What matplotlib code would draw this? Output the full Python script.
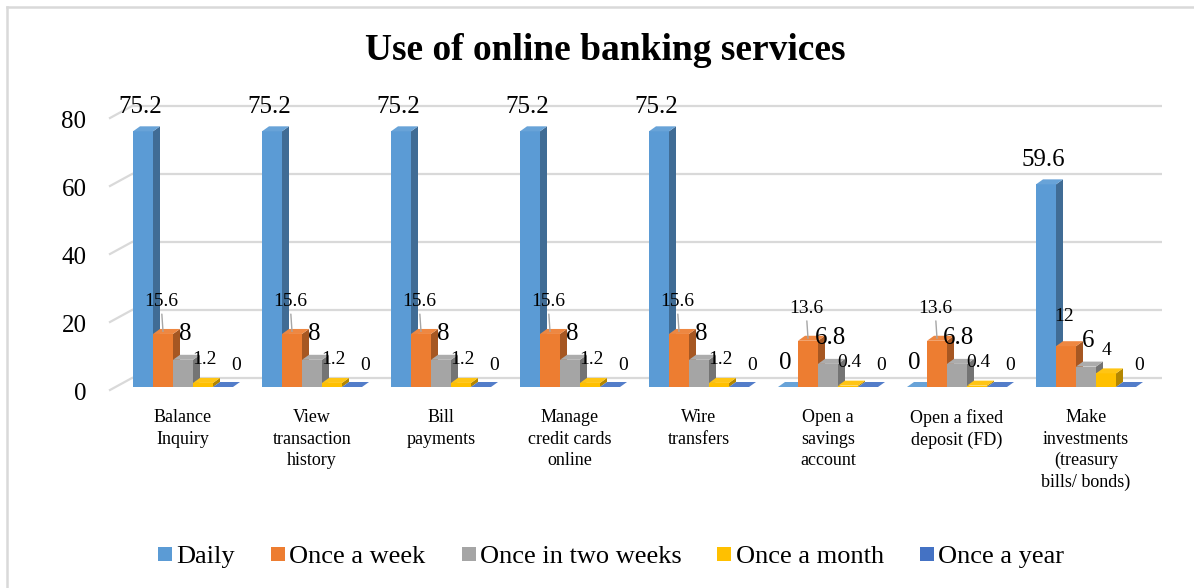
import matplotlib
matplotlib.use("Agg")
import matplotlib.pyplot as plt
import matplotlib.colors as mcolors
from matplotlib.patches import Polygon, Rectangle
from matplotlib.lines import Line2D
from matplotlib.transforms import ScaledTranslation

plt.rcParams['font.family'] = ['Liberation Serif', 'DejaVu Serif']

# ---- data ----
categories = ["Balance\nInquiry", "View\ntransaction\nhistory", "Bill\npayments",
              "Manage\ncredit cards\nonline", "Wire\ntransfers", "Open a\nsavings\naccount",
              "Open a fixed\ndeposit (FD)", "Make\ninvestments\n(treasury\nbills/ bonds)"]
series_names = ["Daily", "Once a week", "Once in two weeks", "Once a month", "Once a year"]
daily = [75.2, 75.2, 75.2, 75.2, 75.2, 0, 0, 59.6]
once_week = [15.6, 15.6, 15.6, 15.6, 15.6, 13.6, 13.6, 12]
two_weeks = [8, 8, 8, 8, 8, 6.8, 6.8, 6]
once_month = [1.2, 1.2, 1.2, 1.2, 1.2, 0.4, 0.4, 4]
once_year = [0, 0, 0, 0, 0, 0, 0, 0]
yticks = [0, 20, 40, 60, 80]

series = [daily, once_week, two_weeks, once_month, once_year]
colors = ['#5B9BD5', '#ED7D31', '#A5A5A5', '#FFC000', '#4472C4']

# ---- layout (pixels) ----
W, H = 1194, 588
DPI = 100
fig = plt.figure(figsize=(W / DPI, H / DPI), dpi=DPI)

ax_left, ax_right, ax_base, ax_top = 110, 1162, 387, 115
ax = fig.add_axes([ax_left / W, (H - ax_base) / H, (ax_right - ax_left) / W, (ax_base - ax_top) / H])
px_x = 129.0                      # pixels per category
px_y = (ax_base - ax_top) / 80.0  # pixels per unit
x0 = -(183 - ax_left) / px_x
ax.set_xlim(x0, x0 + (ax_right - ax_left) / px_x)
ax.set_ylim(0, 80)

bw = 20 / px_x
dx, dy = 7 / px_x, 5 / px_y

# back-wall gridlines with small diagonal at the left side
g_dx, g_up, g_down = 22 / px_x, 9 / px_y, 3 / px_y
for v in yticks:
    ax.plot([x0 + g_dx, ax.get_xlim()[1]], [v + g_up, v + g_up], color='#D9D9D9', lw=1.6,
            zorder=0, clip_on=False, solid_capstyle='butt')
    ax.plot([x0, x0 + g_dx], [v - g_down, v + g_up], color='#D9D9D9', lw=1.6,
            zorder=0, clip_on=False)


def shade(c, f):
    r, g, b = mcolors.to_rgb(c)
    return (r * f, g * f, b * f)


def tint(c, f):
    r, g, b = mcolors.to_rgb(c)
    return (r + (1 - r) * f, g + (1 - g) * f, b + (1 - b) * f)


label_size = [18, 14, 18, 14, 14]
label_off = [(-3, 24), (-2, 30), (2, 26), (1, 23), (13, 22)]  # pixels

for j, vals in enumerate(series):
    z = 3 + j * 3
    for i, h in enumerate(vals):
        xl = i + (j - 2.5) * bw
        xr = xl + bw
        ax.add_patch(Rectangle((xl, 0), bw, h, facecolor=colors[j], lw=0, zorder=z))
        ax.add_patch(Polygon([(xr, 0), (xr + dx, dy), (xr + dx, h + dy), (xr, h)],
                             closed=True, facecolor=shade(colors[j], 0.7), lw=0, zorder=z + 1))
        ax.add_patch(Polygon([(xl, h), (xr, h), (xr + dx, h + dy), (xl + dx, h + dy)],
                             closed=True, facecolor=tint(colors[j], 0.08), lw=0, zorder=z + 2))

        ox, oy = label_off[j]
        txt = f"{h:g}"
        if j == 1 and h > 13:
            ax.annotate(txt, xy=(xl + bw / 2, h + dy / 2), xytext=(ox * 0.72, oy * 0.72),
                        textcoords='offset points', ha='center', va='center',
                        fontsize=label_size[j], zorder=30,
                        arrowprops=dict(arrowstyle='-', color='#A6A6A6', lw=1,
                                        shrinkA=1, shrinkB=0))
        else:
            ax.annotate(txt, xy=(xl + bw / 2, h), xytext=(ox * 0.72, oy * 0.72),
                        textcoords='offset points', ha='center', va='center',
                        fontsize=label_size[j], zorder=30)

# axes decoration
for s in ax.spines.values():
    s.set_visible(False)
ax.set_yticks(yticks)
ax.set_yticklabels([str(v) for v in yticks], fontsize=18)
ax.tick_params(axis='y', length=0, pad=17)
for lab in ax.get_yticklabels():
    lab.set_transform(lab.get_transform() + ScaledTranslation(0, -5 / DPI, fig.dpi_scale_trans))
ax.set_xticks(range(len(categories)))
ax.set_xticklabels(categories, fontsize=13, linespacing=1.33, va='top')
ax.tick_params(axis='x', length=0, pad=16)
ax.patch.set_visible(False)

# title
fig.text(605 / W, 1 - 51 / H, "Use of online banking services", ha='center', va='center',
         fontsize=27, fontweight='bold')

# legend
handles = [Line2D([], [], marker='s', linestyle='none', markersize=9.5, color=c,
                  markeredgewidth=0) for c in colors]
fig.legend(handles, series_names, loc='center', bbox_to_anchor=(611 / W, 1 - 556 / H),
           ncol=5, frameon=False, prop={'family': 'Liberation Serif', 'size': 19},
           handlelength=0.55, handletextpad=0.15, columnspacing=1.35, borderaxespad=0)

# chart border (only the top and left edges are visible in the source)
fig.add_artist(Line2D([7 / W, 7 / W], [0, 1 - 7 / H], color='#D9D9D9', lw=1.8))
fig.add_artist(Line2D([7 / W, 1], [1 - 7 / H, 1 - 7 / H], color='#D9D9D9', lw=1.8))

fig.savefig("out.png", dpi=DPI)
